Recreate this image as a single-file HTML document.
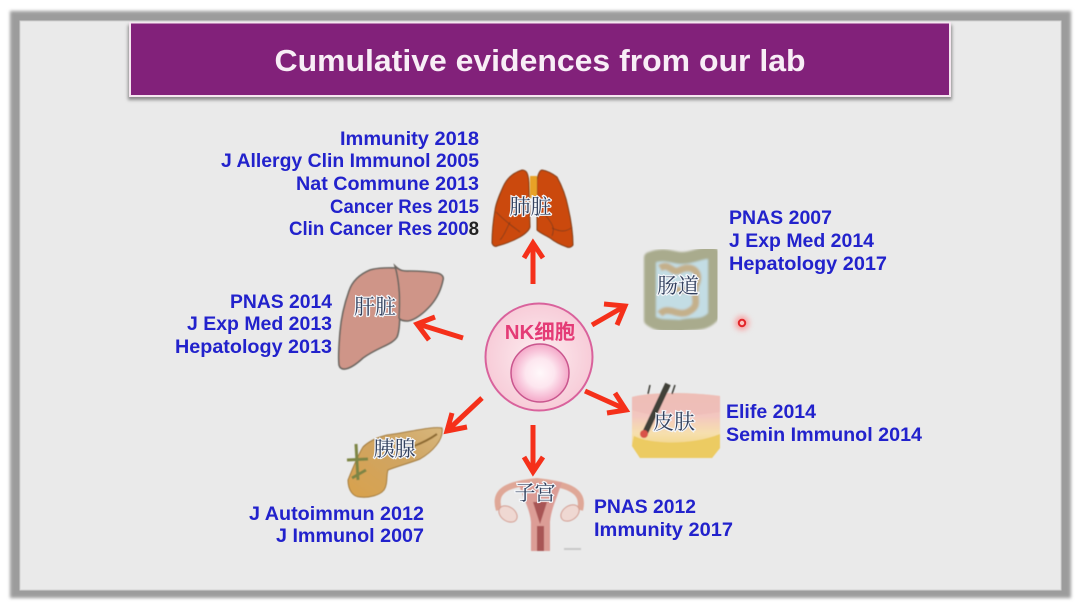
<!DOCTYPE html>
<html><head><meta charset="utf-8">
<style>
html,body{margin:0;padding:0;background:#fff;width:1080px;height:606px;overflow:hidden}
svg{display:block}
.t{font-family:"Liberation Sans","DejaVu Sans",sans-serif;font-weight:700;font-size:19.5px;fill:#2222cc}
.o{font-family:"Noto Serif CJK SC",serif;font-size:21px;fill:#33415e;stroke:#f4f6fa;stroke-width:2.5px;paint-order:stroke}
</style></head><body>
<svg width="1080" height="606" viewBox="0 0 1080 606" xmlns="http://www.w3.org/2000/svg">
<defs>
<filter id="b1" x="-5%" y="-5%" width="110%" height="110%"><feGaussianBlur stdDeviation="1.5"/></filter>
<filter id="b0" x="-5%" y="-5%" width="110%" height="110%"><feGaussianBlur stdDeviation="0.5"/></filter>
<filter id="b2" x="-5%" y="-5%" width="110%" height="110%"><feGaussianBlur stdDeviation="1"/></filter>
<filter id="bt" x="-5%" y="-5%" width="110%" height="110%"><feGaussianBlur stdDeviation="0.35"/></filter>
<filter id="b3" x="-50%" y="-50%" width="200%" height="200%"><feGaussianBlur stdDeviation="3"/></filter>
<radialGradient id="cell"><stop offset="0" stop-color="#fdeef1"/><stop offset="1" stop-color="#f7ccd8"/></radialGradient>
<radialGradient id="nuc"><stop offset="0" stop-color="#fff8fa"/><stop offset="0.5" stop-color="#fde6ef"/><stop offset="1" stop-color="#f4a8c8"/></radialGradient>
<linearGradient id="skin" x1="0" y1="0" x2="0" y2="1"><stop offset="0" stop-color="#eec6b0"/><stop offset="0.35" stop-color="#f3c6c0"/><stop offset="0.62" stop-color="#f6e0ae"/><stop offset="1" stop-color="#eecb68"/></linearGradient>
<linearGradient id="pan" x1="0" y1="1" x2="1" y2="0"><stop offset="0" stop-color="#d9a24c"/><stop offset="0.6" stop-color="#cfa564"/><stop offset="1" stop-color="#d8b77c"/></linearGradient>
</defs>

<!-- frame -->
<rect x="10" y="11" width="1061" height="587" fill="#9c9c9c" filter="url(#b1)"/>
<rect x="20" y="21" width="1041" height="569" fill="#eaeaea" stroke="#d2d2d2" stroke-width="1"/>

<!-- title -->
<rect x="128" y="25" width="824" height="75" fill="#8a8a8a" filter="url(#b1)"/>
<rect x="129" y="22" width="822" height="75" fill="#f5e6f0"/>
<rect x="131" y="23.500" width="818" height="71.500" fill="#82217a"/>
<text x="540" y="71" text-anchor="middle" font-family="Liberation Sans, sans-serif" font-weight="700" font-size="31px" fill="#f8eef6" textLength="531" lengthAdjust="spacingAndGlyphs" filter="url(#bt)">Cumulative evidences from our lab</text>

<!-- lungs -->
<g filter="url(#b0)">
<path d="M522 170C512 173 506 180 503 187C499 196 496 203 495 210C493 222 492 232 492 243C493 246 495 247 497 246C505 244 513 241 520 237C525 234 529 231 530 227L529 187C529 180 528 175 527 173C526 171 524 170 522 170Z" fill="#cb4a10" stroke="#7b3a18" stroke-width="1"/>
<path d="M542 170C548 171 553 174 557 177C562 186 566 197 568 207C571 220 573 233 573 245C572 247 569 248 567 247C561 245 555 242 550 238C545 235 540 233 537 230L537 180C538 174 540 170 542 170Z" fill="#cb4a10" stroke="#7b3a18" stroke-width="1"/>
<rect x="530" y="176" width="7" height="22" fill="#e8a227"/>
<path d="M496 212C506 222 512 226 520 232M510 222C506 230 504 236 500 240M552 228C560 232 566 232 571 228M545 214C550 222 556 226 552 236" fill="none" stroke="#7b3a18" stroke-width="0.8"/>
</g>
<text class="o" x="530.500" y="214" text-anchor="middle">肺脏</text>

<!-- liver -->
<g filter="url(#b0)" fill="#cf9588" stroke="#6a6660" stroke-width="1.600">
<path d="M396 268C390 268 380 267 370 270C358 275 352 282 349 291C344 305 341 320 340 332C339 345 338 355 339 365C341 372 350 370 363 358C378 347 392 345 397 337C400 330 399 322 400 318C401 300 400 280 396 268Z"/>
<path d="M395 266C401 272 405 271 410 271C420 271 430 272 437 273C442 274 444 277 443 280C441 290 437 298 431 305C424 313 415 320 408 321C404 321 400 320 399 318C400 300 400 284 395 266Z"/>
</g>
<text class="o" x="375" y="314" text-anchor="middle">肝脏</text>

<!-- NK cell -->
<circle cx="539" cy="357" r="53.500" fill="url(#cell)" stroke="#d9629c" stroke-width="2"/>
<circle cx="540" cy="373" r="29" fill="url(#nuc)" stroke="#c9568e" stroke-width="1.500"/>
<text x="540" y="339" text-anchor="middle" font-family="Liberation Sans,'Noto Sans CJK SC',sans-serif" font-weight="700" font-size="20.500px" fill="#e43b76" filter="url(#bt)">NK细胞</text>

<!-- intestine -->
<g filter="url(#b2)">
<rect x="646" y="254" width="68" height="68" fill="#c3dde4"/>
<path d="M650 320V258C665 252 672 258 682 258C695 258 705 250 714 254V315C705 328 690 322 680 326C672 324 660 328 650 320Z" fill="none" stroke="#a9ab8d" stroke-width="12" stroke-linejoin="round"/>
<path d="M660 268C670 262 672 275 680 270C692 264 702 272 696 285C692 298 702 305 688 312C678 317 668 305 660 314" fill="none" stroke="#c4b08b" stroke-width="7"/>
<path d="M665 290C672 282 680 296 688 288" fill="none" stroke="#c4b08b" stroke-width="6"/>
</g>
<text class="o" x="678" y="293" text-anchor="middle">肠道</text>

<!-- skin -->
<g filter="url(#b0)">
<path d="M632 397C650 392 690 392 720 396V448L712 458H640L632 446Z" fill="url(#skin)"/>
<path d="M632 397C650 392 690 392 720 396L720 412C700 415 660 420 632 410Z" fill="#eebcb8" opacity="0.8"/>
<path d="M634 436C650 444 690 446 720 434V448L712 458H640L632 446Z" fill="#eccb62"/>
<line x1="668" y1="384" x2="645" y2="433" stroke="#3f3f38" stroke-width="6"/>
<line x1="650" y1="385" x2="648" y2="394" stroke="#3a3a34" stroke-width="1.500"/>
<line x1="675" y1="385" x2="672" y2="394" stroke="#3a3a34" stroke-width="1.500"/>
<circle cx="644" cy="434" r="4" fill="#d9524a"/>
</g>
<text class="o" x="674" y="429" text-anchor="middle">皮肤</text>

<!-- pancreas -->
<g filter="url(#b0)">
<path d="M442 428C444 440 432 452 420 459C410 463 398 466 388 470C386 476 388 484 384 490C380 495 370 498 360 497C353 497 348 490 348 480C352 470 358 455 363 447C368 442 375 438 387 435C410 432 432 426 442 428Z" fill="url(#pan)" stroke="#a27a3c" stroke-width="1"/>
<path d="M356 444L358 480M347 460L368 459M352 478L366 470" stroke="#7d8545" stroke-width="3" fill="none"/>
<path d="M414 446C422 443 430 439 437 434" stroke="#8d6a30" stroke-width="2" fill="none"/>
</g>
<text class="o" x="394.500" y="456" text-anchor="middle">胰腺</text>

<!-- uterus -->
<g filter="url(#b0)">
<path d="M499 510C492 488 512 484 537 481C562 484 586 488 580 510" fill="none" stroke="#dfa797" stroke-width="6"/>
<ellipse cx="508" cy="514" rx="10" ry="7" fill="#efd8d2" stroke="#d29a8e" transform="rotate(35 508 514)"/>
<ellipse cx="570" cy="513" rx="10" ry="7" fill="#efd8d2" stroke="#d29a8e" transform="rotate(-35 570 513)"/>
<path d="M518 482C524 500 530 510 531 522V551H550V522C551 510 556 500 562 482Z" fill="#dc9d96"/>
<path d="M533 502L540 524L547 502ZM537 526H544V551H537Z" fill="#a85555"/>
<rect x="564" y="548" width="17" height="2" fill="#c8c8c8"/>
</g>
<text class="o" x="535" y="500" text-anchor="middle" textLength="41">子宫</text>

<!-- arrows -->
<g fill="none" stroke="#f5301a" stroke-width="5" stroke-linejoin="miter" stroke-linecap="butt">
<path d="M533 284V243M524 258L533 243L543 258"/>
<path d="M463 338L418 324M435 317L417 324L429 340"/>
<path d="M592 325L625 306M604 304L625 306L617 325"/>
<path d="M585 391L625 409M615 393L626 410L607 413"/>
<path d="M533 425V472M524 457L533 472L543 457"/>
<path d="M482 398L448 430M452 413L447 431L467 427"/>
</g>

<!-- labels -->
<g filter="url(#bt)">
<g class="t" text-anchor="end">
<text x="479" y="145" textLength="139" lengthAdjust="spacingAndGlyphs">Immunity 2018</text>
<text x="479" y="167" textLength="258" lengthAdjust="spacingAndGlyphs">J Allergy Clin Immunol 2005</text>
<text x="479" y="190" textLength="183" lengthAdjust="spacingAndGlyphs">Nat Commune 2013</text>
<text x="479" y="213" textLength="149" lengthAdjust="spacingAndGlyphs">Cancer Res 2015</text>
<text x="479" y="235" textLength="190" lengthAdjust="spacingAndGlyphs">Clin Cancer Res 200<tspan fill="#222">8</tspan></text>
<text x="332" y="308" textLength="102" lengthAdjust="spacingAndGlyphs">PNAS 2014</text>
<text x="332" y="330" textLength="145" lengthAdjust="spacingAndGlyphs">J Exp Med 2013</text>
<text x="332" y="353" textLength="157" lengthAdjust="spacingAndGlyphs">Hepatology 2013</text>
<text x="424" y="520" textLength="175" lengthAdjust="spacingAndGlyphs">J Autoimmun 2012</text>
<text x="424" y="542" textLength="148" lengthAdjust="spacingAndGlyphs">J Immunol 2007</text>
</g>
<g class="t">
<text x="729" y="224" textLength="103" lengthAdjust="spacingAndGlyphs">PNAS 2007</text>
<text x="729" y="247" textLength="145" lengthAdjust="spacingAndGlyphs">J Exp Med 2014</text>
<text x="729" y="270" textLength="158" lengthAdjust="spacingAndGlyphs">Hepatology 2017</text>
<text x="726" y="418" textLength="90" lengthAdjust="spacingAndGlyphs">Elife 2014</text>
<text x="726" y="441" textLength="196" lengthAdjust="spacingAndGlyphs">Semin Immunol 2014</text>
<text x="594" y="513" textLength="102" lengthAdjust="spacingAndGlyphs">PNAS 2012</text>
<text x="594" y="536" textLength="139" lengthAdjust="spacingAndGlyphs">Immunity 2017</text>
</g>
</g>

<!-- pointer -->
<circle cx="742" cy="323" r="7" fill="#f8a0a0" filter="url(#b3)"/>
<circle cx="742" cy="323" r="3.200" fill="#f9c4c0" stroke="#e2262a" stroke-width="2"/>
</svg>
</body></html>
